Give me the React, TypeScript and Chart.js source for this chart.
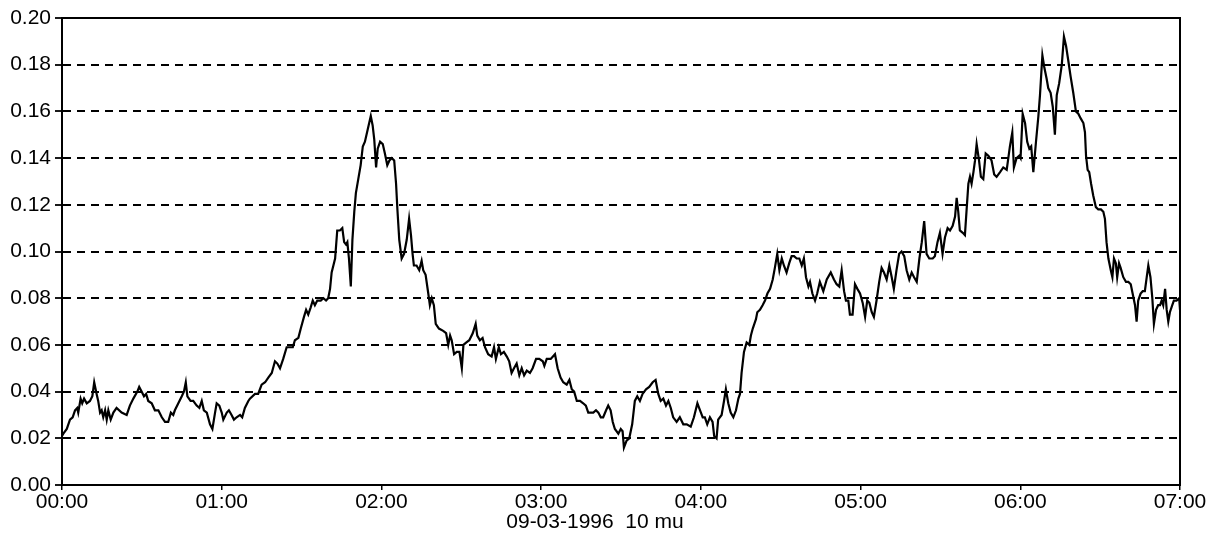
import { useEffect, useRef } from "react";
import { Chart, registerables } from "chart.js";

Chart.register(...registerables);

// [minutes since 00:00, value]
const trace0000to0110: [number, number][] = [
  [0, 0.021], [0.5, 0.022], [1.8, 0.024], [3.0, 0.028], [4.0, 0.029], [4.9, 0.032], [5.7, 0.033], [6.1, 0.031],
  [7.0, 0.037], [7.6, 0.035], [8.3, 0.037], [9.3, 0.035], [10.5, 0.036], [11.4, 0.038], [12.1, 0.044], [13.0, 0.039],
  [13.6, 0.036], [14.3, 0.031], [14.9, 0.032], [15.5, 0.029], [16.2, 0.032], [16.8, 0.028], [17.4, 0.032], [18.3, 0.028],
  [19.3, 0.031], [20.5, 0.033], [22.4, 0.031], [24.3, 0.030], [25.5, 0.034], [26.8, 0.037], [28.3, 0.040], [29.0, 0.042],
  [29.9, 0.040], [30.8, 0.038], [31.6, 0.039], [32.4, 0.036], [33.7, 0.035], [34.9, 0.032], [36.2, 0.032], [37.5, 0.029],
  [38.7, 0.027], [39.9, 0.027], [40.9, 0.031], [41.8, 0.030], [42.4, 0.032], [43.7, 0.035], [45.0, 0.038], [45.8, 0.040],
  [46.5, 0.044], [47.1, 0.038], [48.3, 0.036], [49.3, 0.036], [50.6, 0.034], [51.6, 0.033], [52.5, 0.036], [53.3, 0.032],
  [54.4, 0.031], [55.6, 0.026], [56.5, 0.024], [57.5, 0.031], [58.1, 0.035], [59.1, 0.034], [60.0, 0.031], [60.6, 0.028],
  [61.9, 0.031], [62.7, 0.032], [63.7, 0.030], [64.6, 0.028], [65.6, 0.029], [66.9, 0.030], [67.7, 0.029], [68.7, 0.033],
  [70.0, 0.036], [70.6, 0.037],
];

const trace0110to0220: [number, number][] = [
  [72.5, 0.039], [73.7, 0.039], [75.0, 0.043], [76.3, 0.044], [77.5, 0.046], [78.8, 0.048], [80.0, 0.053], [80.9, 0.052],
  [81.9, 0.050], [83.1, 0.054], [84.4, 0.059], [85.6, 0.059], [86.7, 0.059], [87.5, 0.062], [88.8, 0.063], [89.7, 0.067],
  [90.9, 0.072], [91.7, 0.075], [92.5, 0.073], [93.4, 0.076], [94.2, 0.079], [95.0, 0.077], [95.9, 0.079], [97.2, 0.079],
  [98.2, 0.080], [99.2, 0.079], [100.0, 0.080], [100.7, 0.084], [101.3, 0.091], [102.6, 0.097], [103.4, 0.109], [104.4, 0.109],
  [105.3, 0.110], [106.0, 0.104], [106.7, 0.103], [107.2, 0.104], [107.8, 0.097], [108.5, 0.085], [109.1, 0.105], [109.8, 0.117],
  [110.4, 0.125], [111.3, 0.131], [112.2, 0.137], [113.0, 0.145], [113.8, 0.147], [114.8, 0.152], [116.0, 0.158], [116.7, 0.154],
  [117.3, 0.148], [118.0, 0.136], [118.6, 0.144], [119.5, 0.147], [120.5, 0.146], [121.3, 0.142], [122.2, 0.137], [123.0, 0.139],
  [123.9, 0.140], [124.8, 0.139], [125.5, 0.129], [126.0, 0.118], [126.7, 0.105], [127.6, 0.097], [128.5, 0.099], [129.5, 0.105],
  [130.4, 0.114], [131.1, 0.107], [131.7, 0.099], [132.2, 0.094], [133.2, 0.094], [134.2, 0.092], [135.1, 0.096], [135.7, 0.092],
  [136.6, 0.090], [137.6, 0.082], [138.2, 0.077], [138.9, 0.080], [139.7, 0.077], [140.4, 0.069], [141.6, 0.067],
];

const trace0220to0335: [number, number][] = [
  [143.2, 0.066], [144.3, 0.065], [145.1, 0.060], [145.8, 0.064], [146.4, 0.062], [147.3, 0.056], [148.3, 0.057], [149.3, 0.057],
  [150.2, 0.050], [150.8, 0.060], [151.8, 0.061], [153.0, 0.062], [154.3, 0.065], [155.4, 0.069], [156.0, 0.064], [157.0, 0.062],
  [158.0, 0.063], [158.9, 0.059], [160.1, 0.056], [161.4, 0.055], [162.3, 0.059], [163.0, 0.054], [164.1, 0.059], [164.9, 0.056],
  [166.0, 0.057], [167.1, 0.055], [168.0, 0.053], [168.9, 0.048], [169.8, 0.050], [170.8, 0.052], [171.8, 0.047], [172.7, 0.050],
  [173.6, 0.047], [174.6, 0.049], [175.8, 0.048], [176.8, 0.050], [178.1, 0.054], [179.3, 0.054], [180.6, 0.053], [181.2, 0.051],
  [182.1, 0.054], [183.6, 0.054], [185.2, 0.056], [186.2, 0.050], [187.3, 0.046], [188.3, 0.044], [189.6, 0.043], [190.6, 0.045],
  [191.5, 0.041], [192.4, 0.040], [193.4, 0.036], [194.6, 0.036], [195.8, 0.035], [196.8, 0.034], [197.7, 0.031], [198.7, 0.031],
  [199.6, 0.031], [200.6, 0.032], [201.5, 0.031], [202.4, 0.029], [203.3, 0.029], [204.4, 0.032], [205.2, 0.034], [206.1, 0.032],
  [206.9, 0.027], [207.7, 0.024], [209.0, 0.022], [209.9, 0.024], [210.6, 0.023], [211.1, 0.016], [212.1, 0.019], [213.1, 0.020],
];

const trace0335to0445: [number, number][] = [
  [214.2, 0.026], [215.2, 0.036], [216.1, 0.038], [217.1, 0.036], [218.1, 0.039], [219.4, 0.041], [220.6, 0.042], [221.9, 0.044],
  [223.0, 0.045], [224.0, 0.039], [224.9, 0.036], [225.9, 0.037], [226.9, 0.034], [227.8, 0.036], [228.7, 0.033], [229.6, 0.029],
  [230.9, 0.027], [232.1, 0.029], [233.4, 0.026], [234.7, 0.026], [236.2, 0.025], [237.4, 0.029], [238.7, 0.035], [239.7, 0.032],
  [240.7, 0.029], [241.5, 0.029], [242.4, 0.026], [243.4, 0.029], [244.4, 0.027], [245.0, 0.021], [245.9, 0.020], [246.5, 0.028],
  [247.8, 0.030], [248.7, 0.036], [249.4, 0.041], [250.3, 0.035], [251.2, 0.031], [252.2, 0.029], [253.2, 0.032], [254.1, 0.037],
  [254.7, 0.039], [255.3, 0.048], [256.2, 0.057], [257.2, 0.061], [258.2, 0.060], [258.8, 0.064], [259.5, 0.067], [260.1, 0.069],
  [260.7, 0.071], [261.2, 0.074], [262.2, 0.075], [263.2, 0.077], [264.1, 0.079], [265.0, 0.082], [266.0, 0.084], [267.0, 0.088],
  [267.8, 0.093], [268.7, 0.099], [269.5, 0.092], [270.4, 0.097], [271.2, 0.094], [272.2, 0.091], [273.2, 0.095], [274.1, 0.098],
  [275.0, 0.098], [276.0, 0.097], [277.0, 0.097], [277.9, 0.094], [278.7, 0.097], [279.5, 0.089], [280.4, 0.085], [281.0, 0.087],
  [281.9, 0.082], [282.9, 0.079], [283.7, 0.082], [284.7, 0.087],
];

const trace0445to0555: [number, number][] = [
  [286.0, 0.083], [287.3, 0.088], [288.8, 0.091], [290.0, 0.088], [291.0, 0.086], [292.0, 0.085], [292.9, 0.092], [293.8, 0.083],
  [294.5, 0.079], [295.4, 0.079], [296.0, 0.073], [297.0, 0.073], [297.9, 0.086], [298.8, 0.084], [299.8, 0.082], [300.8, 0.078],
  [301.7, 0.072], [302.5, 0.079], [303.3, 0.078], [304.2, 0.074], [305.0, 0.072], [306.0, 0.079], [307.0, 0.087], [307.9, 0.093],
  [308.8, 0.091], [309.8, 0.088], [310.8, 0.094], [311.7, 0.089], [312.5, 0.084], [313.5, 0.092], [314.5, 0.099], [315.4, 0.100],
  [316.4, 0.098], [317.3, 0.092], [318.3, 0.088], [319.2, 0.091], [320.1, 0.089], [321.1, 0.087], [322.1, 0.097], [323.0, 0.104],
  [323.9, 0.113], [324.8, 0.099], [325.8, 0.097], [327.1, 0.097], [327.9, 0.098], [328.9, 0.104], [329.8, 0.108], [330.8, 0.099],
  [331.7, 0.106], [332.7, 0.110], [333.6, 0.109], [334.6, 0.111], [335.5, 0.115], [336.1, 0.123], [336.7, 0.117], [337.3, 0.109],
  [338.4, 0.108], [339.2, 0.107], [339.9, 0.119], [340.5, 0.129], [341.1, 0.132], [341.7, 0.129], [342.4, 0.134], [343.0, 0.139],
  [343.6, 0.146], [344.5, 0.139], [345.2, 0.132], [346.1, 0.131], [347.0, 0.142], [348.0, 0.141], [349.2, 0.139], [350.2, 0.133],
  [351.1, 0.132], [352.4, 0.134], [353.6, 0.136], [354.9, 0.135], [356.1, 0.145],
];

const trace0555to0700: [number, number][] = [
  [357.0, 0.151], [357.6, 0.136], [358.6, 0.140], [359.6, 0.141], [360.1, 0.140], [360.9, 0.159], [361.8, 0.155], [362.6, 0.147],
  [363.4, 0.144], [364.1, 0.145], [364.9, 0.134], [365.9, 0.147], [366.8, 0.158], [367.4, 0.167], [368.3, 0.184], [369.0, 0.179],
  [369.9, 0.174], [370.5, 0.170], [371.4, 0.168], [372.2, 0.162], [373.0, 0.150], [373.7, 0.167], [374.6, 0.172], [375.6, 0.180],
  [376.4, 0.192], [377.2, 0.188], [378.0, 0.182], [378.9, 0.175], [379.9, 0.168], [380.9, 0.160], [381.8, 0.159], [382.7, 0.157],
  [383.7, 0.155], [384.3, 0.151], [384.7, 0.141], [385.3, 0.135], [385.9, 0.134], [386.6, 0.129], [387.4, 0.124], [388.4, 0.119],
  [389.3, 0.118], [390.3, 0.118], [391.2, 0.117], [391.8, 0.114], [392.4, 0.104], [393.1, 0.097], [394.0, 0.092], [394.6, 0.089],
  [395.2, 0.097], [395.9, 0.095], [396.4, 0.089], [397.1, 0.095], [397.7, 0.093], [398.7, 0.089], [399.7, 0.087], [400.6, 0.087],
  [401.5, 0.086], [402.2, 0.082], [403.1, 0.077], [403.7, 0.070], [404.3, 0.079], [405.2, 0.082], [406.0, 0.083], [406.8, 0.083],
  [407.5, 0.089], [408.1, 0.094], [408.9, 0.089], [409.6, 0.080], [410.2, 0.069], [411.0, 0.075], [411.8, 0.077], [412.5, 0.077],
  [413.1, 0.079], [413.7, 0.077], [414.4, 0.084], [415.0, 0.075], [415.6, 0.070], [416.2, 0.074], [417.1, 0.077], [417.7, 0.079],
  [418.7, 0.079], [419.7, 0.080], [420.0, 0.075],
];

const xTickLabels = ["00:00", "01:00", "02:00", "03:00", "04:00", "05:00", "06:00", "07:00"];
const yTickValues = [0, 0.02, 0.04, 0.06, 0.08, 0.1, 0.12, 0.14, 0.16, 0.18, 0.2];
const xAxisTitle = "09-03-1996  10 mu";

const FONT_FAMILY = "'Liberation Sans', Arial, Helvetica, sans-serif";

export default function App() {
  const canvasRef = useRef<HTMLCanvasElement | null>(null);

  useEffect(() => {
    document.body.style.margin = "0";
    const canvas = canvasRef.current;
    if (!canvas) return;

    const readings = [
      ...trace0000to0110,
      ...trace0110to0220,
      ...trace0220to0335,
      ...trace0335to0445,
      ...trace0445to0555,
      ...trace0555to0700,
    ].map(([m, v]) => ({ x: m, y: v }));

    const font = { family: FONT_FAMILY, size: 21 };

    const framePlugin = {
      id: "frame",
      afterDraw(chart: any) {
        const { ctx, chartArea } = chart;
        ctx.save();
        ctx.strokeStyle = "#000";
        ctx.lineWidth = 2;
        ctx.setLineDash([]);
        ctx.strokeRect(chartArea.left, chartArea.top, chartArea.right - chartArea.left, chartArea.bottom - chartArea.top);
        // axis title
        ctx.fillStyle = "#000";
        ctx.font = `21px ${FONT_FAMILY}`;
        ctx.textAlign = "center";
        ctx.textBaseline = "middle";
        const cx = (chartArea.left + chartArea.right) / 2 - 26;
        ctx.fillText(xAxisTitle, cx, chartArea.bottom + 37);
        ctx.restore();
      },
    };

    const chart = new Chart(canvas, {
      type: "line",
      data: {
        datasets: [
          {
            data: readings,
            borderColor: "#000",
            borderWidth: 2.2,
            pointRadius: 0,
            tension: 0,
            fill: false,
          },
        ],
      },
      options: {
        responsive: false,
        animation: false,
        parsing: false as any,
        normalized: true,
        layout: { padding: { top: 18, right: 40, left: 0, bottom: 0 } },
        plugins: {
          legend: { display: false },
          tooltip: { enabled: false },
          title: { display: false },
        },
        scales: {
          x: {
            type: "linear",
            min: 0,
            max: 420,
            afterBuildTicks: (scale: any) => {
              scale.ticks = xTickLabels.map((_, i) => ({ value: i * 60 }));
            },
            afterFit: (scale: any) => {
              scale.height = 54;
            },
            ticks: {
              callback: (v: any) => xTickLabels[Math.round(Number(v) / 60)],
              color: "#000",
              font,
              padding: 0,
              maxRotation: 0,
              autoSkip: false,
            },
            grid: {
              drawOnChartArea: false,
              drawTicks: true,
              tickLength: 5,
              color: "#000",
              lineWidth: 1.5,
            },
            border: { display: true, color: "#000", width: 2 },
          },
          y: {
            min: 0,
            max: 0.2,
            afterBuildTicks: (scale: any) => {
              scale.ticks = yTickValues.map((v) => ({ value: v }));
            },
            afterFit: (scale: any) => {
              scale.width = 62;
            },
            ticks: {
              callback: (v: any) => Number(v).toFixed(2),
              color: "#000",
              font,
              padding: 4,
            },
            grid: {
              drawOnChartArea: true,
              drawTicks: true,
              tickLength: 7,
              lineWidth: 2,
              tickColor: "#000",
              tickWidth: 1.8,
              color: (ctx: any) => {
                const v = ctx.tick ? ctx.tick.value : null;
                if (v === null) return "#000";
                return Math.abs(v) < 1e-9 || Math.abs(v - 0.2) < 1e-9 ? "rgba(0,0,0,0)" : "#000";
              },
            },
            border: { display: true, color: "#000", width: 2, dash: [8, 6] },
          },
        },
      },
      plugins: [framePlugin],
    });

    return () => chart.destroy();
  }, []);

  return (
    <div style={{ width: 1220, height: 539, background: "#fff" }}>
      <canvas ref={canvasRef} width={1220} height={539} style={{ display: "block" }} />
    </div>
  );
}
